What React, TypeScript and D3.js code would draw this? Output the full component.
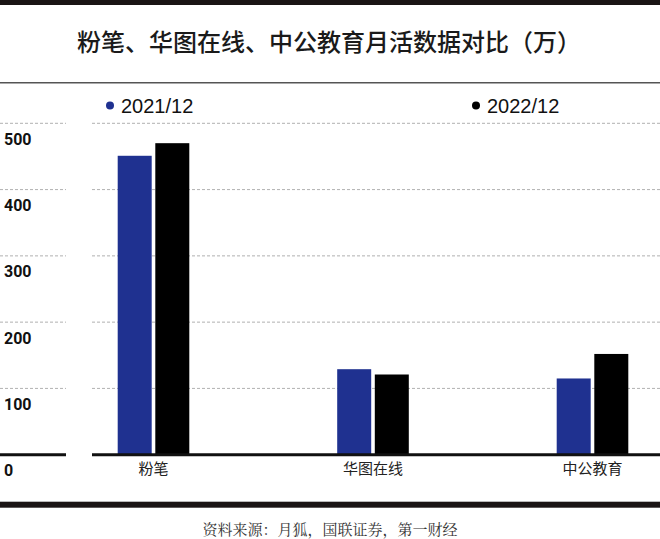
import React from "react";
import * as d3 from "d3";

const categories = ["粉笔", "华图在线", "中公教育"];
const seriesNames = ["2021/12", "2022/12"];
const values2021 = [451, 129, 115];
const values2022 = [470, 121, 152];
const yTicks = [0, 100, 200, 300, 400, 500];
const title = "粉笔、华图在线、中公教育月活数据对比（万）";
const source = "资料来源：月狐，国联证券，第一财经";

const W = 660;
const H = 539;
const colors = ["#1f3190", "#000000"];

export default function App() {
  const y = d3.scaleLinear().domain([0, 500]).range([454.7, 123.3]);
  const x = d3.scaleBand<string>().domain(categories).range([43.75, 702.25]).padding(0);
  const inner = d3
    .scaleBand<string>()
    .domain(seriesNames)
    .range([-35.8, 35.8])
    .paddingInner(0.0957)
    .paddingOuter(0);
  const series = [values2021, values2022];
  const center = (c: string) => (x(c) as number) + x.bandwidth() / 2;
  const cjk = "'Noto Sans CJK SC', 'Noto Sans', sans-serif";

  return (
    <svg
      width={W}
      height={H}
      style={{ position: "absolute", left: 0, top: 0, background: "#fff" }}
    >
      <rect x={0} y={0} width={W} height={H} fill="#fff" />
      {/* top band */}
      <rect x={0} y={0} width={W} height={5} fill="#1a1414" />
      <text
        x={329}
        y={51}
        textAnchor="middle"
        fontFamily={cjk}
        fontSize={24}
        fontWeight={500}
        fill="#1a1a1a"
      >
        {title}
      </text>
      <line x1={0} x2={W} y1={82.7} y2={82.7} stroke="#555" strokeWidth={1.4} />

      {/* legend */}
      {seriesNames.map((s, i) => {
        const lx = i === 0 ? 110 : 476;
        return (
          <g key={s}>
            <circle cx={lx} cy={105.5} r={4} fill={colors[i]} />
            <text
              x={lx + 11}
              y={113}
              fontFamily="'Liberation Sans', Arial, sans-serif"
              fontSize={20}
              fill="#111"
            >
              {s}
            </text>
          </g>
        );
      })}

      {/* grid */}
      {yTicks
        .filter((t) => t > 0)
        .map((t) => (
          <g key={t}>
            <line
              x1={0}
              x2={66}
              y1={y(t)}
              y2={y(t)}
              stroke="#a8a8a8"
              strokeWidth={0.9}
              strokeDasharray="3 2"
            />
            <line
              x1={92}
              x2={W}
              y1={y(t)}
              y2={y(t)}
              stroke="#a8a8a8"
              strokeWidth={0.9}
              strokeDasharray="3 2"
            />
          </g>
        ))}

      {/* bars */}
      {categories.map((c, ci) =>
        seriesNames.map((s, si) => {
          const v = series[si][ci];
          const bx = center(c) + (inner(s) as number);
          return (
            <rect
              key={c + s}
              x={bx}
              y={y(v)}
              width={inner.bandwidth()}
              height={y(0) - y(v)}
              fill={colors[si]}
            />
          );
        })
      )}

      {/* baseline */}
      <line x1={0} x2={66} y1={y(0)} y2={y(0)} stroke="#111" strokeWidth={3} />
      <line x1={92} x2={W} y1={y(0)} y2={y(0)} stroke="#111" strokeWidth={3} />

      {/* y tick labels */}
      {yTicks.map((t) => (
        <text
          key={t}
          x={4}
          y={y(t) + 21.5}
          fontFamily="Roboto, 'Liberation Sans', sans-serif"
          fontSize={16}
          fontWeight={700}
          fill="#111"
        >
          {t}
        </text>
      ))}

      {/* category labels */}
      {categories.map((c) => (
        <text
          key={c}
          x={center(c)}
          y={474}
          textAnchor="middle"
          fontFamily={cjk}
          fontSize={15}
          fill="#222"
        >
          {c}
        </text>
      ))}

      {/* bottom band */}
      <rect x={0} y={501.7} width={W} height={6} fill="#1a1414" />
      <text
        x={330}
        y={535}
        textAnchor="middle"
        fontFamily="'Noto Serif CJK SC', 'Noto Serif', serif"
        fontSize={15}
        fill="#333"
      >
        {source}
      </text>
    </svg>
  );
}
